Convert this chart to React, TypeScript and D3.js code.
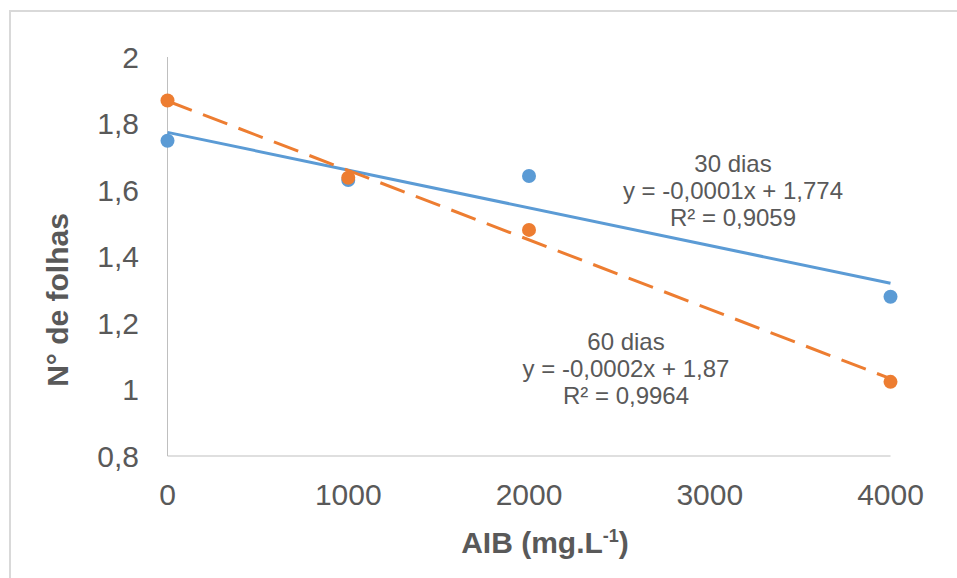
import React from "react";
import * as d3 from "d3";

const doses = [0, 1000, 2000, 4000];
const folhas30 = [1.748, 1.63, 1.642, 1.279];
const folhas60 = [1.869, 1.637, 1.48, 1.023];
const yTicks = [0.8, 1, 1.2, 1.4, 1.6, 1.8, 2];
const yTickLabels = ["0,8", "1", "1,2", "1,4", "1,6", "1,8", "2"];
const xTicks = [0, 1000, 2000, 3000, 4000];
const xTickLabels = ["0", "1000", "2000", "3000", "4000"];
const label30 = ["30 dias", "y = -0,0001x + 1,774", "R² = 0,9059"];
const label60 = ["60 dias", "y = -0,0002x + 1,87", "R² = 0,9964"];

const W = 957;
const H = 578;
const FONT = "'Liberation Sans', Arial, sans-serif";
const TXT = "#595959";
const BLUE = "#5B9BD5";
const ORANGE = "#ED7D31";

function fit(xs: number[], ys: number[]) {
  const mx = d3.mean(xs) as number;
  const my = d3.mean(ys) as number;
  let sxy = 0;
  let sxx = 0;
  xs.forEach((x, i) => {
    sxy += (x - mx) * (ys[i] - my);
    sxx += (x - mx) * (x - mx);
  });
  const b = sxy / sxx;
  const a = my - b * mx;
  return (x: number) => a + b * x;
}

export default function App() {
  const x = d3.scaleLinear().domain([0, 4000]).range([167.5, 890.5]);
  const y = d3.scaleLinear().domain([0.8, 2]).range([456, 57]);
  const line = d3
    .line<number>()
    .x((d) => x(d))
    .y((d) => d);

  const f30 = fit(doses, folhas30);
  const f60 = fit(doses, folhas60);
  const trend = (f: (v: number) => number) =>
    d3
      .line<number>()
      .x((d) => x(d))
      .y((d) => y(f(d)))([0, 4000]) as string;

  return (
    <svg
      width={W}
      height={H}
      style={{ position: "absolute", left: 0, top: 0, background: "#fff" }}
      fontFamily={FONT}
    >
      <rect x={0} y={0} width={W} height={H} fill="#fff" />
      <rect x={10} y={11} width={1200} height={1000} fill="none" stroke="#d9d9d9" strokeWidth={2} />

      {/* axes */}
      <line x1={x(0)} x2={x(0)} y1={y(2)} y2={y(0.8)} stroke="#bfbfbf" strokeWidth={1} />
      <line x1={x(0)} x2={x(4000)} y1={y(0.8)} y2={y(0.8)} stroke="#bfbfbf" strokeWidth={1} />

      {yTicks.map((t, i) => (
        <text key={"y" + i} x={139} y={y(t) + 10.7} textAnchor="end" fontSize={30} fill={TXT}>
          {yTickLabels[i]}
        </text>
      ))}
      {xTicks.map((t, i) => (
        <text key={"x" + i} x={x(t)} y={505} textAnchor="middle" fontSize={30} fill={TXT}>
          {xTickLabels[i]}
        </text>
      ))}

      {/* trendlines */}
      <path d={trend(f30)} fill="none" stroke={BLUE} strokeWidth={3} />
      <path d={trend(f60)} fill="none" stroke={ORANGE} strokeWidth={3} strokeDasharray="26 12" />

      {/* points */}
      {doses.map((d, i) => (
        <circle key={"b" + i} cx={x(d)} cy={y(folhas30[i])} r={7} fill={BLUE} />
      ))}
      {doses.map((d, i) => (
        <circle key={"o" + i} cx={x(d)} cy={y(folhas60[i])} r={7} fill={ORANGE} />
      ))}

      {/* labels */}
      {label30.map((s, i) => (
        <text key={"l30" + i} x={733} y={171.5 + i * 27.2} textAnchor="middle" fontSize={24} fill={TXT}>
          {s}
        </text>
      ))}
      {label60.map((s, i) => (
        <text key={"l60" + i} x={626} y={350 + i * 27.2} textAnchor="middle" fontSize={24} fill={TXT}>
          {s}
        </text>
      ))}

      {/* axis titles */}
      <text x={545} y={553} textAnchor="middle" fontSize={30} fontWeight="bold" fill={TXT}>
        AIB (mg.L
        <tspan fontSize={18} dy={-11}>-1</tspan>
        <tspan dy={11}>)</tspan>
      </text>
      <text
        transform={`translate(68,300) rotate(-90)`}
        textAnchor="middle"
        fontSize={30}
        fontWeight="bold"
        fill={TXT}
      >
        N° de folhas
      </text>
    </svg>
  );
}
